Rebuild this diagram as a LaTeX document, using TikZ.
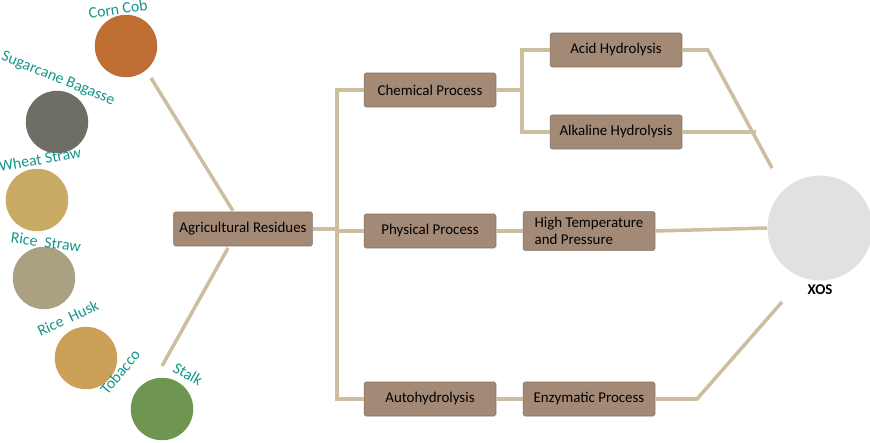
\documentclass[tikz,border=0pt]{standalone}
\usepackage{fontspec}
\setmainfont{Carlito}
\usetikzlibrary{positioning, calc}
\definecolor{boxbrown}{RGB}{163, 138, 118}
\definecolor{linetan}{RGB}{205, 190, 160}
\definecolor{labelteal}{RGB}{20, 150, 140}
\definecolor{corncol}{RGB}{190, 110, 50}
\definecolor{canecol}{RGB}{110, 110, 100}
\definecolor{wheatcol}{RGB}{200, 170, 100}
\definecolor{ricecol}{RGB}{170, 160, 130}
\definecolor{huskcol}{RGB}{205, 160, 90}
\definecolor{tobaccocol}{RGB}{110, 150, 80}
\definecolor{xoscol}{RGB}{225, 225, 225}

\begin{document}
\begin{tikzpicture}[x=0.02cm, y=-0.02cm,
  procbox/.style={rectangle, fill=boxbrown, draw=boxbrown!80!black, line width=0.3pt, rounded corners=1pt, minimum width=2.64cm, minimum height=0.68cm, font=\fontsize{8.5}{9.5}\selectfont, align=left},
  link/.style={draw=linetan, line width=2pt},
  photo/.style={circle, minimum size=1.25cm, inner sep=0},
  croplabel/.style={text=labelteal, font=\fontsize{9}{10}\selectfont},
]
\useasboundingbox (0,0) rectangle (870,443);

% Residue pictures
\node[photo, fill=corncol] (corn) at (126,46) {};
\node[photo, fill=canecol] (cane) at (57,122) {};
\node[photo, fill=wheatcol] (wheat) at (37,200) {};
\node[photo, fill=ricecol] (rice) at (44,278) {};
\node[photo, fill=huskcol] (husk) at (86,358) {};
\node[photo, fill=tobaccocol] (tobacco) at (162,409) {};
\node[photo, fill=xoscol, minimum size=2.1cm] (xos) at (820,228) {};

% Labels
\node[croplabel, rotate=8] at (118,9) {Corn Cob};
\node[croplabel, rotate=-22] at (58,79) {Sugarcane Bagasse};
\node[croplabel, rotate=10] at (40,159) {Wheat Straw};
\node[croplabel, rotate=-8] at (46,242) {Rice\ \ Straw};
\node[croplabel, rotate=25] at (68,318) {Rice\ \ Husk};
\node[croplabel, rotate=50] at (120,372) {Tobacco};
\node[croplabel, rotate=-30] at (188,374) {Stalk};
\node[font=\fontsize{8.5}{9.5}\selectfont\bfseries] at (820,290) {XOS};

% Process boxes
\node[procbox] (agri) at (243,229) {Agricultural Residues};
\node[procbox] (chem) at (430,90) {Chemical Process};
\node[procbox] (phys) at (430,231) {Physical Process};
\node[procbox] (auto) at (430,399) {Autohydrolysis};
\node[procbox] (acid) at (616,50) {Acid Hydrolysis};
\node[procbox] (alka) at (616,132) {Alkaline Hydrolysis};
\node[procbox, minimum height=0.76cm] (heat) at (589,231) {High Temperature\\and Pressure};
\node[procbox] (enzy) at (589,399) {Enzymatic Process};

% Connectors
\coordinate (trunk) at (337,229);
\coordinate (split) at (522,90);
\draw[link] (151,78) -- (233,211);
\draw[link] (228,248) -- (162,366);
\draw[link] (agri.east) -- (trunk);
\draw[link] (chem.west) -| (trunk) |- (auto.west);
\draw[link] (trunk |- phys.west) -- (phys.west);
\draw[link] (chem.east) -- (split);
\draw[link] (acid.west) -| (split) |- (alka.west);
\draw[link] (phys.east) -- (heat.west);
\draw[link] (auto.east) -- (enzy.west);
\draw[link] (acid.east) -- (708,50) -- (772,168);
\draw[link] (alka.east) -- (756,132);
\draw[link] (heat.east) -- (xos.west);
\draw[link] (enzy.east) -- (697,399) -- (782,302);

\end{tikzpicture}
\end{document}
